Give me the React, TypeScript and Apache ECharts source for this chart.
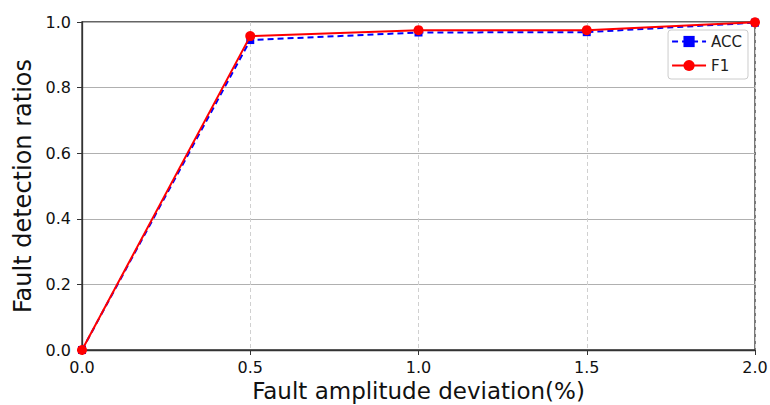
import React, { useEffect, useRef } from "react";
import * as echarts from "echarts";

const xValues = [0.0, 0.5, 1.0, 1.5, 2.0];
const accValues = [0.0, 0.945, 0.968, 0.969, 0.998];
const f1Values = [0.0, 0.957, 0.975, 0.975, 0.999];
const xTicks = ["0.0", "0.5", "1.0", "1.5", "2.0"];

const FONT = "DejaVu Sans";

export default function App() {
  const ref = useRef<HTMLDivElement>(null);
  useEffect(() => {
    if (!ref.current) return;
    const chart = echarts.init(ref.current, null, { renderer: "svg" });
    chart.setOption({
      animation: false,
      backgroundColor: "#ffffff",
      textStyle: { fontFamily: FONT },
      grid: {
        left: 82,
        right: 15,
        top: 22,
        bottom: 55,
        outerBoundsMode: "none",
        containLabel: false,
        show: true,
        borderColor: "#333",
        borderWidth: 1.3,
      },
      legend: {
        right: 22,
        top: 30,
        orient: "vertical",
        itemWidth: 34,
        itemHeight: 14,
        itemGap: 9,
        padding: [4, 6, 6, 3],
        backgroundColor: "#fff",
        borderColor: "#ccc",
        borderWidth: 1,
        borderRadius: 3,
        textStyle: { fontFamily: FONT, fontSize: 15, color: "#222" },
        data: ["ACC", "F1"],
      },
      xAxis: {
        type: "value",
        min: 0,
        max: 2,
        interval: 0.5,
        name: "Fault amplitude deviation(%)",
        nameLocation: "middle",
        nameGap: 25,
        nameTextStyle: { fontFamily: FONT, fontSize: 23, color: "#111" },
        axisLine: { show: true, lineStyle: { color: "#333", width: 1.3 } },
        axisTick: { show: true, length: 5, lineStyle: { color: "#333" } },
        axisLabel: {
          fontFamily: FONT,
          fontSize: 16,
          color: "#111",
          margin: 9,
          formatter: (v: number) => xTicks[Math.round(v / 0.5)] ?? v.toFixed(1),
        },
        splitLine: {
          show: true,
          lineStyle: { color: "#d0d0d0", type: [4, 3], width: 1 },
        },
      },
      yAxis: {
        type: "value",
        min: 0,
        max: 1,
        interval: 0.2,
        name: "Fault detection ratios",
        nameLocation: "middle",
        nameGap: 47,
        nameTextStyle: { fontFamily: FONT, fontSize: 24, color: "#111" },
        axisLine: { show: true, lineStyle: { color: "#333", width: 1.3 } },
        axisTick: { show: true, length: 5, lineStyle: { color: "#333" } },
        axisLabel: {
          fontFamily: FONT,
          fontSize: 16,
          color: "#111",
          margin: 11,
          formatter: (v: number) => v.toFixed(1),
        },
        splitLine: {
          show: true,
          lineStyle: { color: "#b0b0b0", width: 1 },
        },
      },
      series: [
        {
          name: "ACC",
          type: "line",
          data: xValues.map((x, i) => [x, accValues[i]]),
          symbol: "rect",
          symbolSize: 8,
          showAllSymbol: true,
          itemStyle: { color: "#0000ff" },
          lineStyle: { color: "#0000ff", width: 2, type: [6, 4] },
          clip: false,
          z: 3,
        },
        {
          name: "F1",
          type: "line",
          data: xValues.map((x, i) => [x, f1Values[i]]),
          symbol: "circle",
          symbolSize: 10,
          showAllSymbol: true,
          itemStyle: { color: "#ff0000" },
          lineStyle: { color: "#ff0000", width: 2 },
          clip: false,
          z: 4,
        },
      ],
    });
    return () => chart.dispose();
  }, []);
  return <div ref={ref} style={{ width: 770, height: 405, position: "fixed", left: 0, top: 0 }} />;
}
